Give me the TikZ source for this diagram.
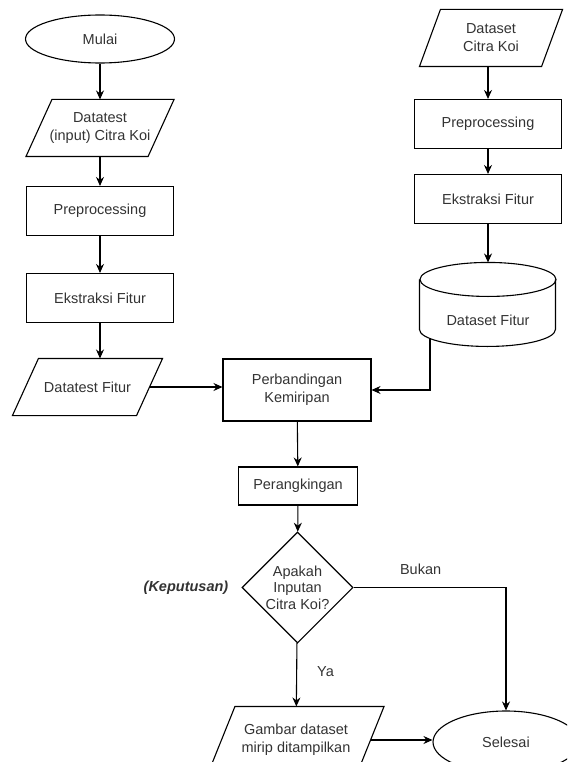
\documentclass[tikz,border=0pt]{standalone}
\usepackage{fontspec}
\setmainfont{Liberation Sans}
\usepackage{xcolor}
\usetikzlibrary{shapes.geometric,arrows.meta,positioning,calc}
\definecolor{teksabu}{HTML}{333333}

\begin{document}
\begin{tikzpicture}[x=1pt,y=-1pt,
        garis/.style={draw=black, line width=1.1pt},
        dasar/.style={garis, text=teksabu, font=\fontsize{14.5}{18}\selectfont, align=center, inner sep=0pt},
        terminal/.style={dasar, ellipse, minimum width=149pt, minimum height=48pt},
        proses/.style={dasar, rectangle, minimum width=147pt, minimum height=49pt},
        io/.style={dasar, draw=none, rectangle, minimum width=#1, minimum height=56pt},
        keputusan/.style={dasar, diamond, minimum width=111pt, minimum height=111pt},
        ket/.style={text=teksabu, font=\fontsize{14.5}{18}\selectfont, inner sep=0pt},
        arus/.style={line width=1.1pt, -{Stealth[length=9pt,width=8pt]}}]
        \useasboundingbox (0,0) rectangle (567,762);
        \clip (0,0) rectangle (567,762);

        % Data uji
        \node[terminal] (mulai) at (100,39) {Mulai};
        \node[io=121pt] (dtinput) at (100,128) {Datatest\\(input) Citra Koi};
        \node[proses] (prep1) at (100,211) {Preprocessing};
        \node[proses] (ekstr1) at (100,298) {Ekstraksi Fitur};
        \node[io=123pt] (dtfitur) at (87.5,387) {Datatest Fitur};

        % Dataset
        \node[io=121pt] (dscitra) at (491,38) {Dataset\\Citra Koi};
        \node[proses] (prep2) at (488,124) {Preprocessing};
        \node[proses] (ekstr2) at (488,199) {Ekstraksi Fitur};
        \node[dasar, draw=none, minimum width=136pt, minimum height=84pt] (dsfitur) at (488,305) {};
        \node[ket] (dsfiturteks) at (488,320) {Dataset Fitur};
        \coordinate (dskeluar) at (430,339);

        % Perbandingan dan keputusan
        \node[proses, minimum width=148pt, minimum height=62pt] (banding) at (297,390) {Perbandingan\\Kemiripan};
        \node[proses, minimum width=119pt, minimum height=38pt] (rangking) at (298,486) {Perangkingan};
        \node[keputusan, label={[ket, align=center, font=\fontsize{14.5}{16.5}\selectfont]center:Apakah\\Inputan\\Citra Koi?}] (cek) at (297.5,587.5) {};
        \node[ket, font=\fontsize{14.5}{18}\selectfont\bfseries\itshape, left=13pt of cek] (ketkep) {(Keputusan)};

        % Hasil
        \node[io=148pt, minimum height=66pt] (gambar) at (296,740) {Gambar dataset\\mirip ditampilkan};
        \node[terminal, minimum width=146pt, minimum height=62pt] (selesai) at (506,742) {Selesai};

        % Jajar genjang input/output
        \foreach \n/\s in {dtinput/13, dtfitur/13, dscitra/10.5, gambar/13.5}
            \draw[garis] ([xshift=-\s pt]\n.south west) -- ([xshift=-\s pt]\n.south east)
                -- ([xshift=\s pt]\n.north east) -- ([xshift=\s pt]\n.north west) -- cycle;

        % Tabung dataset fitur
        \draw[garis] (dsfitur.north west) ++(0,17) -- ++(0,50)
            arc[start angle=180, end angle=360, x radius=68pt, y radius=17pt] -- ++(0,-50);
        \draw[garis] ($(dsfitur.north)+(0,17)$) ellipse [x radius=68pt, y radius=17pt];

        % Alur
        \draw[arus] (mulai) -- (dtinput);
        \draw[arus] (dtinput) -- (prep1);
        \draw[arus] (prep1) -- (ekstr1);
        \draw[arus] (ekstr1.south) -- (ekstr1.south |- dtfitur.north);
        \draw[arus] (dtfitur.east) -- (dtfitur.east -| banding.west);
        \draw[arus] (dscitra.south -| prep2.north) -- (prep2);
        \draw[arus] (prep2) -- (ekstr2);
        \draw[arus] (ekstr2) -- (dsfitur.north);
        \draw[arus] (dskeluar) |- (banding.east);
        \draw[arus] (banding) -- (rangking);
        \draw[arus] (rangking) -- (cek);
        \draw[arus] (cek) -- node[ket, pos=0.45, right=20pt] {Ya} (gambar);
        \draw[arus] (cek.east) -| node[ket, pos=0.22, above=12pt] {Bukan} (selesai.north);
        \draw[arus] (gambar.east) -- (gambar.east -| selesai.west);
    \end{tikzpicture}
\end{document}
